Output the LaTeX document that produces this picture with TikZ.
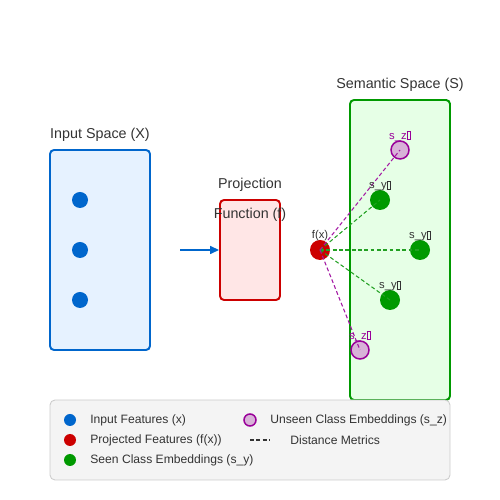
\documentclass[tikz,border=0pt]{standalone}
\usepackage{fontspec}
\setmainfont{Liberation Sans}
\usetikzlibrary{arrows.meta}
\definecolor{inblue}{HTML}{0066CC}
\definecolor{inbg}{HTML}{E6F2FF}
\definecolor{prred}{HTML}{CC0000}
\definecolor{prbg}{HTML}{FFE6E6}
\definecolor{segreen}{HTML}{009900}
\definecolor{sebg}{HTML}{E6FFE6}
\definecolor{distgreen}{HTML}{22A022}
\definecolor{unpurple}{HTML}{990099}
\definecolor{unfill}{HTML}{D8B2D8}
\definecolor{txtgray}{HTML}{333333}
\definecolor{lgbg}{HTML}{F4F4F4}
\definecolor{lgedge}{HTML}{CCCCCC}
\tikzset{
  spacebox/.style={draw,line width=1.1pt,rounded corners=0.08cm,inner sep=0pt},
  title/.style={text=txtgray,font=\fontsize{8.15}{9.8}\selectfont},
  lbl/.style={text=txtgray,font=\fontsize{6.4}{7.6}\selectfont,inner sep=0pt},
  lgd/.style={text=txtgray,font=\fontsize{6.9}{8.2}\selectfont,anchor=west,inner sep=0pt},
  inpt/.style={circle,fill=inblue,inner sep=0pt,minimum size=0.32cm},
  fpt/.style={circle,fill=prred,inner sep=0pt,minimum size=0.4cm},
  seenpt/.style={circle,fill=segreen,inner sep=0pt,minimum size=0.4cm},
  unseenpt/.style={circle,draw=unpurple,fill=unfill,line width=0.85pt,inner sep=0pt,minimum size=0.36cm},
  dist/.style={dashed,line width=0.6pt,dash pattern=on 2.2pt off 1.4pt}
}
\newcommand{\tofu}{{\setlength{\fboxsep}{0pt}\setlength{\fboxrule}{0.25pt}\fbox{\rule{0pt}{0.7em}\hspace{0.3em}}}}
\begin{document}
\begin{tikzpicture}
\useasboundingbox (0,0) rectangle (10,10);

\node[spacebox,draw=inblue,fill=inbg,minimum width=2cm,minimum height=4cm] (inbox) at (2,5) {};
\node[spacebox,draw=prred,fill=prbg,minimum width=1.2cm,minimum height=2cm] (proj) at (5,5) {};
\node[spacebox,draw=segreen,fill=sebg,minimum width=2cm,minimum height=6cm] (sembox) at (8,5) {};

\draw (2,7.3) node[title] {Input Space (X)};
\draw (5,6.3) node[title] {Projection};
\draw (5,5.7) node[title] {Function (f)};
\draw (8,8.3) node[title] {Semantic Space (S)};

\node[inpt] (x1) at (1.6,6) {};
\node[inpt] (x2) at (1.6,5) {};
\node[inpt] (x3) at (1.6,4) {};

\coordinate (arrstart) at (3.6,5);
\draw[-{Triangle[length=0.18cm,width=0.16cm]},inblue,line width=0.85pt] (arrstart) -- (proj.west);

\node[fpt] (fx) at (6.4,5) {};
\node[seenpt] (sy1) at (7.6,6) {};
\node[seenpt] (sy2) at (8.4,5) {};
\node[seenpt] (sy3) at (7.8,4) {};
\node[unseenpt] (sz1) at (8,7) {};
\node[unseenpt] (sz2) at (7.2,3) {};

\draw[dist,distgreen] (fx.center) -- (sy1.center);
\draw[dist,distgreen] (fx.center) -- (sy2.center);
\draw[dist,distgreen] (fx.center) -- (sy3.center);
\draw[dist,unpurple!90!white] (fx.center) -- (sz1.center);
\draw[dist,unpurple!90!white] (fx.center) -- (sz2.center);

\draw (6.4,5.28) node[lbl] {f(x)};
\draw (7.6,6.28) node[lbl] {s\_y\tofu};
\draw (8.4,5.28) node[lbl] {s\_y\tofu};
\draw (7.8,4.28) node[lbl] {s\_y\tofu};
\draw (8,7.28) node[lbl,text=unpurple] {s\_z\tofu};
\draw (7.2,3.28) node[lbl,text=unpurple] {s\_z\tofu};

\node[draw=lgedge,fill=lgbg,rounded corners=0.1cm,line width=0.5pt,minimum width=8cm,minimum height=1.6cm,inner sep=0pt] (legend) at (5,1.2) {};
\node[inpt,minimum size=0.24cm] (lgin) at (1.4,1.6) {};
\node[fpt,minimum size=0.24cm] (lgf) at (1.4,1.2) {};
\node[seenpt,minimum size=0.24cm] (lgs) at (1.4,0.8) {};
\node[unseenpt,minimum size=0.24cm] (lgu) at (5,1.6) {};
\coordinate (lgd1) at (5,1.2);
\coordinate (lgd2) at (5.4,1.2);
\draw[dist,txtgray] (lgd1) -- (lgd2);
\draw (1.8,1.6) node[lgd] {Input Features (x)};
\draw (1.8,1.2) node[lgd] {Projected Features (f(x))};
\draw (1.8,0.8) node[lgd] {Seen Class Embeddings (s\_y)};
\draw (5.4,1.6) node[lgd] {Unseen Class Embeddings (s\_z)};
\draw (5.8,1.2) node[lgd] {Distance Metrics};

\end{tikzpicture}
\end{document}
